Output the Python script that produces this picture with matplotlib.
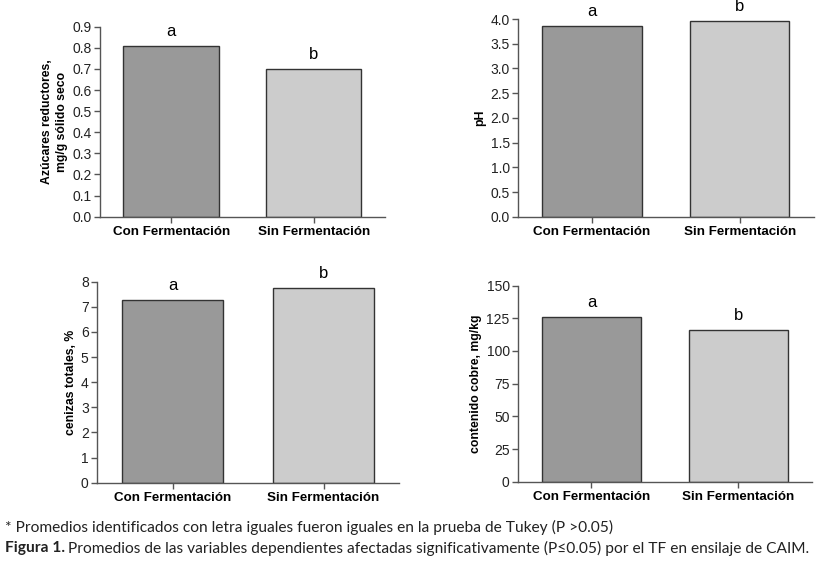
import matplotlib
matplotlib.use('Agg')
import matplotlib.pyplot as plt

# Datos
tratamientos = ['Con Fermentación', 'Sin Fermentación']
letras = ['a', 'b']
azucares = [0.81, 0.70]
ph = [3.86, 3.96]
cenizas = [7.27, 7.74]
cobre = [126, 116]

colores = ['#999999', '#cccccc']
fuente = ['Liberation Sans Narrow', 'Liberation Sans', 'DejaVu Sans']
plt.rcParams['font.family'] = fuente

fig = plt.figure(figsize=(8.18, 5.61), dpi=100)

paneles = [
    # (rect, valores, ylim, ticks, formato, etiqueta)
    ([0.1222, 0.6137, 0.3484, 0.3387], azucares, 0.9,
     [i / 10 for i in range(10)], '{:.1f}', 'Azúcares reductores,\nmg/g sólido seco'),
    ([0.6333, 0.6137, 0.3616, 0.3524], ph, 4.0,
     [i / 2 for i in range(9)], '{:.1f}', 'pH'),
    ([0.1186, 0.1396, 0.3692, 0.3583], cenizas, 8,
     list(range(9)), '{:d}', 'cenizas totales, %'),
    ([0.6333, 0.1414, 0.3591, 0.3494], cobre, 150,
     list(range(0, 151, 25)), '{:d}', 'contenido cobre, mg/kg'),
]

for rect, valores, ymax, ticks, fmt, etiqueta in paneles:
    ax = fig.add_axes(rect)
    x = range(len(tratamientos))
    ax.bar(x, valores, width=0.67, color=colores, edgecolor='#333333', linewidth=1.0)
    for xi, v, letra in zip(x, valores, letras):
        ax.annotate(letra, (xi, v), xytext=(0, 5), textcoords='offset points',
                    ha='center', va='bottom', fontsize=12)
    ax.set_xlim(-0.5, 1.5)
    ax.set_ylim(0, ymax)
    ax.set_yticks(ticks)
    ax.set_yticklabels([fmt.format(t) for t in ticks])
    ax.set_xticks(list(x))
    ax.set_xticklabels(tratamientos, fontsize=9.6, fontweight='bold')
    ax.set_ylabel(etiqueta, fontsize=8.8, fontweight='bold', linespacing=1.3, labelpad=3)
    for lado in ['top', 'right']:
        ax.spines[lado].set_visible(False)
    for lado in ['left', 'bottom']:
        ax.spines[lado].set_color('#555555')
        ax.spines[lado].set_linewidth(1.0)
    ax.tick_params(axis='y', length=4, width=1, color='#555555', labelsize=10, pad=2,
                   labelcolor='#222222')
    ax.tick_params(axis='x', length=4, width=1, color='#555555', pad=3)
    ax.set_facecolor('none')

# Notas al pie
pie = ['Lato', 'DejaVu Sans']
fig.text(0.006, 1 - 527 / 561, '* Promedios identificados con letra iguales fueron iguales en la prueba de Tukey (P >0.05)',
         family=pie, fontsize=11.2, va='center', ha='left', color='#222222')
t1 = fig.text(0.006, 1 - 548 / 561, 'Figura 1.', family=pie, fontsize=11.2, fontweight='bold',
              va='center', ha='left', color='#222222')
fig.canvas.draw()
bb = t1.get_window_extent()
fig.text((bb.x1 + 3) / fig.bbox.width, 1 - 548 / 561,
         'Promedios de las variables dependientes afectadas significativamente (P≤0.05) por el TF en ensilaje de CAIM.',
         family=pie, fontsize=11.2, va='center', ha='left', color='#222222')

fig.savefig('out.png', dpi=100)
